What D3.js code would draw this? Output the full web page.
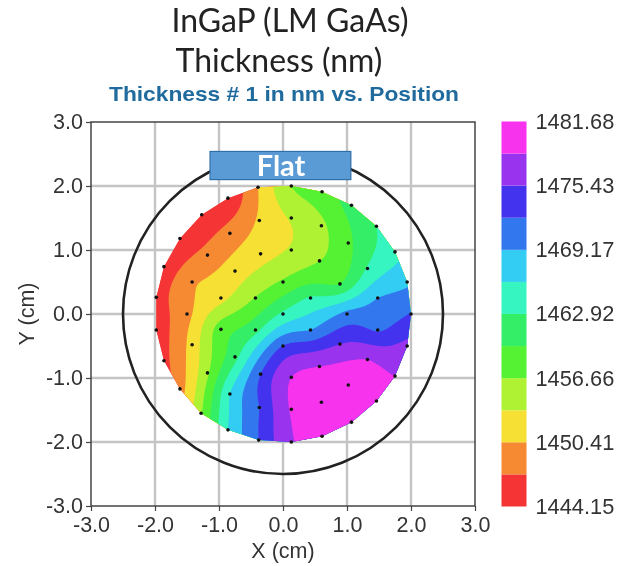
<!DOCTYPE html>
<html>
<head>
<meta charset="utf-8">
<title>InGaP Thickness</title>
<script src="https://cdn.jsdelivr.net/npm/d3@7"></script>
<style>
    html, body {margin:0; padding:0; background:#fff;}
    svg {display:block; filter:blur(0.55px);}
    .tick text {font-family:"Liberation Sans",Arial,sans-serif; font-size:21.5px; fill:#333;}
</style>
</head>
<body>
<div id="chart"></div>
<script>
//measurement sites, x and y in cm, thickness in nm
var siteX = [0.13,-0.39,-0.86,-1.27,-1.61,-1.86,-1.98,-1.98,-1.86,-1.61,-1.28,-0.86,-0.38,0.13,0.61,1.07,1.46,1.75,1.94,2.00,1.94,1.75,1.46,1.07,0.61,
    0.13,-0.37,-0.83,-1.18,-1.42,-1.50,-1.42,-1.18,-0.83,-0.37,0.13,0.60,1.02,1.32,1.48,1.48,1.32,1.02,0.60,
    0.13,-0.35,-0.75,-0.97,-0.97,-0.75,-0.35,0.13,0.57,0.89,1.00,0.89,0.57,
    0.00,-0.43,-0.43,0.00,0.43,0.43,0.00];
var siteY = [2.00,1.98,1.81,1.55,1.18,0.74,0.26,-0.25,-0.73,-1.17,-1.55,-1.81,-1.97,-2.00,-1.91,-1.69,-1.36,-0.97,-0.50,0.00,0.50,0.97,1.37,1.70,1.91,
    1.50,1.46,1.26,0.92,0.50,0.00,-0.48,-0.92,-1.25,-1.46,-1.49,-1.38,-1.11,-0.71,-0.25,0.25,0.71,1.11,1.38,
    1.00,0.94,0.67,0.25,-0.24,-0.67,-0.94,-0.99,-0.82,-0.47,0.00,0.47,0.83,
    0.50,0.25,-0.25,-0.50,-0.25,0.25,0.00];
var siteThickness = [1456.66,1450.41,1444.78,1444.46,1444.31,1444.78,1445.71,1445.40,1446.34,1449.15,1456.35,1466.04,1472.30,1478.24,1479.18,1479.49,1479.80,1478.55,1476.36,1472.45,1468.55,1465.10,1462.92,1461.04,1458.54,
    1453.85,1450.87,1448.53,1448.37,1449.94,1449.47,1451.66,1456.19,1466.04,1472.30,1478.87,1480.43,1480.12,1478.55,1471.98,1469.17,1463.23,1459.16,1456.04,
    1453.85,1452.44,1451.97,1452.59,1458.22,1461.98,1472.30,1478.55,1478.55,1475.43,1470.11,1459.79,1456.66,
    1457.13,1456.82,1461.98,1472.45,1469.17,1463.23,1463.54];

//colour bands, low to high
var bandEdges = [1444.15,1447.28,1450.41,1453.53,1456.66,1459.79,1462.92,1466.04,1469.17,1472.30,1475.43,1478.55,1481.68];
var bandColors = ["#f53535","#f58a33","#f5e033","#aef233","#55f233","#33ee66","#36f5c0","#33ccf2","#3377ee","#4433ee","#9933ee","#f733ee"];
var legendTicks = [1444.15,1450.41,1456.66,1462.92,1469.17,1475.43,1481.68];
var axisTicks = [-3,-2,-1,0,1,2,3];
var waferRadius = 2.5;

function createChart(){
    var width = 620, height = 566;
    var svg = d3.select("#chart").append("svg")
        .attr("width",width)
        .attr("height",height);

    var x = d3.scaleLinear().domain([-3,3]).range([91,475]);
    var y = d3.scaleLinear().domain([-3,3]).range([506,122]);

    addTitles(svg);
    addAxes(svg,x,y);
    addBands(svg,x,y);
    addWafer(svg,x,y);
    addLegend(svg);
};

function addTitles(svg){
    var lines = [
        {text:"InGaP (LM GaAs)", x:290, y:32},
        {text:"Thickness (nm)", x:279, y:72}
    ];
    svg.selectAll(".title")
        .data(lines)
        .enter()
        .append("text")
        .attr("class","title")
        .attr("x",function(d){return d.x})
        .attr("y",function(d){return d.y})
        .attr("text-anchor","middle")
        .style("font-family","Lato,'Open Sans',sans-serif")
        .style("font-size","32px")
        .style("fill","#222")
        .text(function(d){return d.text});

    svg.append("text")
        .attr("x",284)
        .attr("y",101)
        .attr("text-anchor","middle")
        .attr("textLength",350)
        .attr("lengthAdjust","spacingAndGlyphs")
        .style("font-family","'Liberation Sans',Arial,sans-serif")
        .style("font-weight","bold")
        .style("font-size","21px")
        .style("fill","#1f6b9e")
        .text("Thickness # 1 in nm vs. Position");
};

function addAxes(svg,x,y){
    var fmt = function(d){return d.toFixed(1)};

    //grid first so the bands sit on top of it
    var grid = svg.append("g");
    grid.selectAll(".gx")
        .data(axisTicks.slice(1,-1))
        .enter()
        .append("line")
        .attr("x1",function(d){return x(d)})
        .attr("x2",function(d){return x(d)})
        .attr("y1",y(3))
        .attr("y2",y(-3));
    grid.selectAll(".gy")
        .data(axisTicks.slice(1,-1))
        .enter()
        .append("line")
        .attr("x1",x(-3))
        .attr("x2",x(3))
        .attr("y1",function(d){return y(d)})
        .attr("y2",function(d){return y(d)});
    grid.selectAll("line")
        .attr("stroke","#c4c4c4")
        .attr("stroke-width",2.4);

    var xAxis = svg.append("g")
        .attr("transform","translate(0,"+y(-3)+")")
        .call(d3.axisBottom(x).tickValues(axisTicks).tickFormat(fmt).tickSize(5).tickPadding(6));
    var yAxis = svg.append("g")
        .attr("transform","translate("+x(-3)+",0)")
        .call(d3.axisLeft(y).tickValues(axisTicks).tickFormat(fmt).tickSize(5).tickPadding(3));
    [xAxis,yAxis].forEach(function(a){
        a.select(".domain").remove();
        a.selectAll("line").attr("stroke","#444").attr("stroke-width",1.2);
    });

    svg.append("rect")
        .attr("x",x(-3))
        .attr("y",y(3))
        .attr("width",x(3)-x(-3))
        .attr("height",y(-3)-y(3))
        .attr("fill","none")
        .attr("stroke","#444")
        .attr("stroke-width",1.5);

    svg.append("text")
        .attr("x",x(0))
        .attr("y",558)
        .attr("text-anchor","middle")
        .style("font-family","'Liberation Sans',Arial,sans-serif")
        .style("font-size","21.5px")
        .style("fill","#333")
        .text("X (cm)");
    svg.append("text")
        .attr("transform","translate(34,"+y(0)+") rotate(-90)")
        .attr("text-anchor","middle")
        .style("font-family","'Liberation Sans',Arial,sans-serif")
        .style("font-size","21.5px")
        .style("fill","#333")
        .text("Y (cm)");
};

//thin plate fit through the sites, gives the surface that gets contoured
function fitSurface(lambda){
    var n = siteX.length, m = n+3;
    var A = [];
    function kernel(r2){return r2>0 ? 0.5*r2*Math.log(r2) : 0};
    for (var i=0; i<m; i++){A.push(new Array(m+1).fill(0))}
    for (var i=0; i<n; i++){
        for (var j=0; j<n; j++){
            var dx = siteX[i]-siteX[j], dy = siteY[i]-siteY[j];
            A[i][j] = kernel(dx*dx+dy*dy);
        }
        A[i][i] += lambda;
        A[i][n] = A[n][i] = 1;
        A[i][n+1] = A[n+1][i] = siteX[i];
        A[i][n+2] = A[n+2][i] = siteY[i];
        A[i][m] = siteThickness[i];
    }
    //gauss elimination
    for (var c=0; c<m; c++){
        var p = c;
        for (var r=c+1; r<m; r++){if (Math.abs(A[r][c])>Math.abs(A[p][c])){p = r}}
        var tmp = A[c]; A[c] = A[p]; A[p] = tmp;
        for (var r=c+1; r<m; r++){
            var f = A[r][c]/A[c][c];
            for (var k=c; k<=m; k++){A[r][k] -= f*A[c][k]}
        }
    }
    var w = new Array(m);
    for (var r=m-1; r>=0; r--){
        var s = A[r][m];
        for (var k=r+1; k<m; k++){s -= A[r][k]*w[k]}
        w[r] = s/A[r][r];
    }
    return function(px,py){
        var v = w[n]+w[n+1]*px+w[n+2]*py;
        for (var i=0; i<n; i++){
            var dx = px-siteX[i], dy = py-siteY[i];
            v += w[i]*kernel(dx*dx+dy*dy);
        }
        return v;
    };
};

function addBands(svg,x,y){
    var surface = fitSurface(0.002);

    //grid over the wafer
    var step = 0.02, x0 = -2.1, y0 = -2.1, nx = 211, ny = 211;
    var values = new Array(nx*ny);
    for (var j=0; j<ny; j++){
        for (var i=0; i<nx; i++){
            values[j*nx+i] = surface(x0+i*step,y0+j*step);
        }
    }
    var project = d3.geoTransform({
        point: function(px,py){
            this.stream.point(x(x0+(px-0.5)*step),y(y0+(py-0.5)*step));
        }
    });
    var path = d3.geoPath(project);
    var contours = d3.contours().size([nx,ny]).thresholds(bandEdges.slice(0,-1)).smooth(true)(values);

    //filled area stops at the outer sites
    var hull = d3.polygonHull(siteX.map(function(d,i){return [x(d),y(siteY[i])]}));
    svg.append("clipPath")
        .attr("id","waferClip")
        .append("path")
        .attr("d","M"+hull.join("L")+"Z");

    var g = svg.append("g").attr("clip-path","url(#waferClip)");
    g.append("path")
        .attr("d","M"+hull.join("L")+"Z")
        .attr("fill",bandColors[0]);
    g.selectAll(".band")
        .data(contours)
        .enter()
        .append("path")
        .attr("class","band")
        .attr("d",path)
        .attr("fill",function(d,i){return bandColors[i]});

    svg.append("g").selectAll("circle")
        .data(d3.range(siteX.length))
        .enter()
        .append("circle")
        .attr("cx",function(i){return x(siteX[i])})
        .attr("cy",function(i){return y(siteY[i])})
        .attr("r",1.8)
        .attr("fill","#111");
};

function addWafer(svg,x,y){
    svg.append("circle")
        .attr("cx",x(0))
        .attr("cy",y(0))
        .attr("r",x(waferRadius)-x(0))
        .attr("fill","none")
        .attr("stroke","#222")
        .attr("stroke-width",2.6);

    svg.append("rect")
        .attr("x",x(-1.14))
        .attr("y",y(2.54))
        .attr("width",x(1.06)-x(-1.14))
        .attr("height",y(2.1)-y(2.54))
        .attr("fill","#5b9bd5")
        .attr("stroke","#2f6fa8")
        .attr("stroke-width",1.2);

    svg.append("text")
        .attr("x",x(-0.03))
        .attr("y",y(2.32)+10)
        .attr("text-anchor","middle")
        .style("font-family","Lato,'Open Sans',sans-serif")
        .style("font-weight","bold")
        .style("font-size","29px")
        .style("fill","#fff")
        .text("Flat");
};

function addLegend(svg){
    var v = d3.scaleLinear().domain([bandEdges[0],bandEdges[12]]).range([506.5,121.5]);

    svg.append("g").selectAll("rect")
        .data(bandColors)
        .enter()
        .append("rect")
        .attr("x",501.5)
        .attr("width",25)
        .attr("y",function(d,i){return v(bandEdges[i+1])})
        .attr("height",function(d,i){return v(bandEdges[i])-v(bandEdges[i+1])})
        .attr("fill",function(d){return d});

    var axis = svg.append("g")
        .attr("transform","translate(526.5,0)")
        .call(d3.axisRight(v).tickValues(legendTicks).tickFormat(d3.format(".2f")).tickSize(0).tickPadding(9));
    axis.select(".domain").remove();
    axis.selectAll("text").style("font-size","21.8px");
};

createChart();
</script>
</body>
</html>
